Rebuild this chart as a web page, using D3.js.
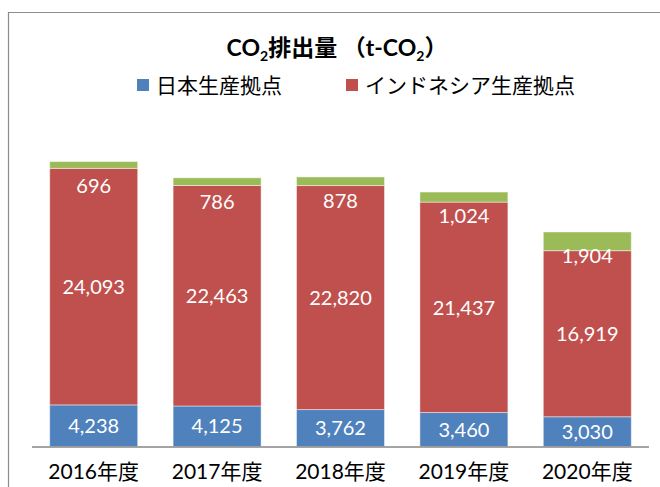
<!DOCTYPE html>
<html>
<head>
<meta charset="utf-8">
<script src="https://cdn.jsdelivr.net/npm/d3@7"></script>
<style>
  body { margin: 0; background: #fff; }
  svg text { font-family: Lato, "Noto Sans CJK JP", sans-serif; }
</style>
</head>
<body>
<div id="chart"></div>
<script>
// data
var years = ['2016年度', '2017年度', '2018年度', '2019年度', '2020年度'];
var japan = [4238, 4125, 3762, 3460, 3030];
var indonesia = [24093, 22463, 22820, 21437, 16919];
var other = [696, 786, 878, 1024, 1904];
var seriesNames = ['日本生産拠点', 'インドネシア生産拠点'];
var seriesColors = ['#4F81BD', '#C0504D', '#9BBB59'];

var W = 660, H = 487;

var svg = d3.select('#chart')
  .append('svg')
    .attr('width', W)
    .attr('height', H);

// chart frame (cut off at right and bottom)
svg.append('path')
  .attr('d', 'M8.5,' + H + 'V12.5H' + W)
  .attr('fill', 'none')
  .attr('stroke', '#8c8c8c')
  .attr('stroke-width', 1.2);

// title
var title = svg.append('text')
  .attr('x', 337)
  .attr('y', 56)
  .attr('text-anchor', 'middle')
  .attr('font-size', '23px')
  .attr('font-weight', 'bold')
  .attr('fill', '#000');
title.append('tspan').text('CO');
title.append('tspan').attr('font-size', '14px').attr('dy', 5).text('2');
title.append('tspan').attr('dy', -5).text('排出量 （t-CO');
title.append('tspan').attr('font-size', '14px').attr('dy', 5).text('2');
title.append('tspan').attr('dy', -5).text('）');

// legend
var legendX = [137, 346];
var legend = svg.selectAll('.legend')
  .data(seriesNames)
  .enter().append('g')
    .attr('class', 'legend')
    .attr('transform', function(d, i) { return 'translate(' + legendX[i] + ',85)'; });
legend.append('rect')
  .attr('x', 0).attr('y', -6)
  .attr('width', 12).attr('height', 12)
  .attr('fill', function(d, i) { return seriesColors[i]; });
legend.append('text')
  .attr('x', 19)
  .attr('dy', '0.36em')
  .attr('font-size', '21px')
  .attr('fill', '#000')
  .text(function(d) { return d; });

// scales
var x = d3.scaleBand()
  .domain(years)
  .range([32, 649])
  .paddingInner(0.287)
  .paddingOuter(0.1435);

var y = d3.scaleLinear()
  .domain([0, 30000])
  .range([446.5, 152]);

var rows = years.map(function(d, i) {
  return { year: d, japan: japan[i], indonesia: indonesia[i], other: other[i] };
});
var stack = d3.stack().keys(['japan', 'indonesia', 'other']);
var layers = stack(rows);

var fmt = d3.format(',');

var g = svg.selectAll('.layer')
  .data(layers)
  .enter().append('g')
    .attr('class', 'layer')
    .attr('fill', function(d, i) { return seriesColors[i]; });

g.selectAll('rect')
  .data(function(d) { return d; })
  .enter().append('rect')
    .attr('x', function(d) { return x(d.data.year); })
    .attr('y', function(d) { return y(d[1]); })
    .attr('width', x.bandwidth())
    .attr('height', function(d) { return y(d[0]) - y(d[1]); })
    .attr('stroke', 'rgba(255,255,255,0.45)')
    .attr('stroke-width', 1);

// data labels (green series label sits just under its segment)
layers.forEach(function(layer, li) {
  svg.selectAll('.lbl' + li)
    .data(layer)
    .enter().append('text')
      .attr('class', 'lbl' + li)
      .attr('x', function(d) { return x(d.data.year) + x.bandwidth() / 2; })
      .attr('y', function(d) {
        if (li === 2) return y(d[1]) + 24;
        return (y(d[0]) + y(d[1])) / 2;
      })
      .attr('dy', '0.36em')
      .attr('text-anchor', 'middle')
      .attr('font-size', '20px')
      .attr('fill', '#fff')
      .text(function(d) { return fmt(d[1] - d[0]); });
});

// x axis
svg.append('line')
  .attr('x1', 32).attr('x2', 649)
  .attr('y1', 447).attr('y2', 447)
  .attr('stroke', '#868686')
  .attr('stroke-width', 1.5);

svg.selectAll('.cat')
  .data(years)
  .enter().append('text')
    .attr('class', 'cat')
    .attr('x', function(d) { return x(d) + x.bandwidth() / 2; })
    .attr('y', 471)
    .attr('dy', '0.36em')
    .attr('text-anchor', 'middle')
    .attr('font-size', '21px')
    .attr('fill', '#000')
    .text(function(d) { return d; });
</script>
</body>
</html>
